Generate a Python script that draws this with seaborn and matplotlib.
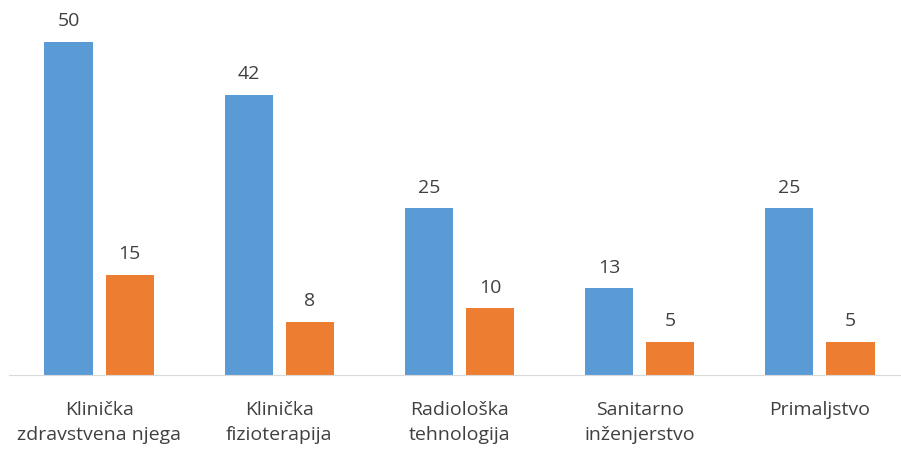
import pandas as pd
import seaborn as sns
import matplotlib.pyplot as plt

# Data
categories = ["Klinička\nzdravstvena njega", "Klinička\nfizioterapija",
              "Radiološka\ntehnologija", "Sanitarno\ninženjerstvo", "Primaljstvo"]
series_a = [50, 42, 25, 13, 25]
series_b = [15, 8, 10, 5, 5]

df = pd.DataFrame({
    "kategorija": categories * 2,
    "vrijednost": series_a + series_b,
    "serija": ["A"] * len(categories) + ["B"] * len(categories),
})

sns.set_style("white")
plt.rcParams['font.family'] = ['Open Sans', 'DejaVu Sans']

fig = plt.figure(figsize=(9.01, 4.52), dpi=100)
ax = fig.add_axes([9 / 901, 76 / 452, 901 / 901, 376 / 452])

sns.barplot(data=df, x="kategorija", y="vrijednost", hue="serija",
            palette=["#5B9BD5", "#ED7D31"], saturation=1, width=0.68, gap=0.215,
            linewidth=0, legend=False, ax=ax)

for cont in ax.containers:
    ax.bar_label(cont, padding=9, fontsize=14, color="#404040")

ax.set_xlim(-0.5, 4.5)
ax.set_ylim(0, 56.4)
ax.set_xlabel("")
ax.set_ylabel("")
ax.set_yticks([])
ax.tick_params(axis="x", length=0, pad=18, labelsize=14, colors="#404040")
for lbl in ax.get_xticklabels():
    lbl.set_linespacing(1.5)
for s in ["top", "left", "right"]:
    ax.spines[s].set_visible(False)
ax.spines["bottom"].set_color("#D9D9D9")

fig.savefig("out.png", dpi=100)
